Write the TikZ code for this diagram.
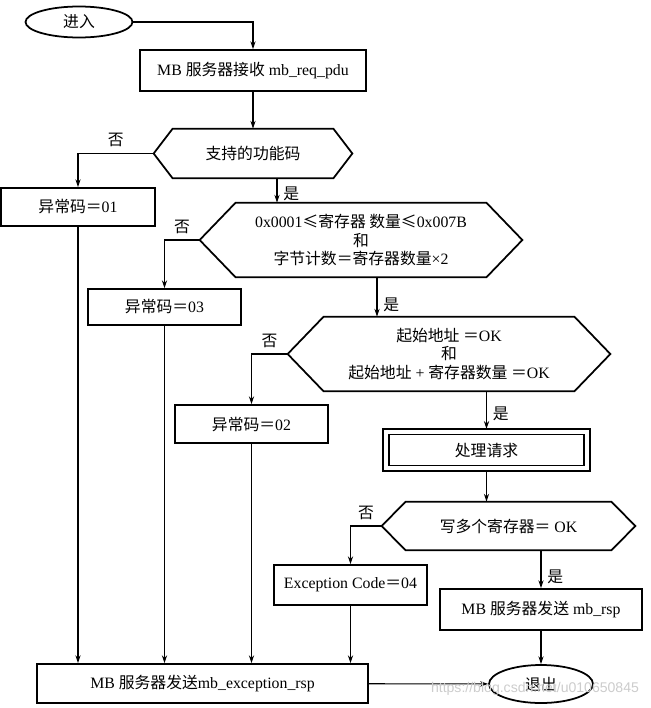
\documentclass[tikz,border=0pt]{standalone}
\usepackage{fontspec}
\setmainfont{Liberation Serif}
\newfontfamily\cjk{Noto Sans CJK SC}
\newfontfamily\markfont{Liberation Sans}
\usetikzlibrary{arrows.meta, shapes.geometric}

\begin{document}
\begin{tikzpicture}
[ x=0.2mm, y=-0.2mm, font=\fontsize{9}{10.5}\selectfont
, >={Stealth[length=4.5pt, width=3pt]}
, box/.style={rectangle, draw, line width=1pt, inner sep=0pt, align=center}
, dbox/.style={box, line width=0.8pt, double, double distance=2.4pt, outer sep=1.6pt}
, terminal/.style={ellipse, draw, line width=1pt, inner sep=0pt}
, decision/.style={rectangle, inner sep=0pt, align=center}
, outline/.style={line width=1pt}
, arrow/.style={->, line width=0.6pt}
]
\useasboundingbox (0,0) rectangle (650,708);

% Main line
\node (enter) [terminal, minimum width=21.4mm, minimum height=6.2mm] at (79,22) {\cjk 进入};
\node (recv) [box, minimum width=45.2mm, minimum height=8.2mm] at (253,70.5) {MB {\cjk 服务器接收} mb\_req\_pdu};
\node (func) [decision, minimum width=32mm, minimum height=9.8mm] at (253,153.5) {\cjk 支持的功能码};
\node (qty) [decision, minimum width=50mm, minimum height=14.8mm] at (361,240)
  {0x0001{\cjk ≤寄存器 数量≤}0x007B\\{\cjk 和}\\{\cjk 字节计数＝寄存器数量}×2};
\node (addr) [decision, minimum width=50mm, minimum height=14.8mm] at (449,354)
  {{\cjk 起始地址 ＝}OK\\{\cjk 和}\\{\cjk 起始地址} + {\cjk 寄存器数量 ＝}OK};
\node (proc) [dbox, minimum width=40.2mm, minimum height=7.3mm] at (486.5,450) {\cjk 处理请求};
\node (write) [decision, minimum width=41mm, minimum height=9.6mm] at (508.5,526) {{\cjk 写多个寄存器＝} OK};
\node (rsp) [box, minimum width=40.4mm, minimum height=8.2mm] at (541,609.5) {MB {\cjk 服务器发送} mb\_rsp};
\node (leave) [terminal, minimum width=20.8mm, minimum height=7.6mm] at (541,684) {\cjk 退出};

% Exception branch
\node (err1) [box, minimum width=30.8mm, minimum height=7.6mm] at (78,207) {{\cjk 异常码＝}01};
\node (err3) [box, minimum width=30.6mm, minimum height=7.2mm] at (164.5,307) {{\cjk 异常码＝}03};
\node (err2) [box, minimum width=30.6mm, minimum height=7.6mm] at (251.5,424) {{\cjk 异常码＝}02};
\node (exc4) [box, minimum width=30.6mm, minimum height=8mm] at (350.5,585) {Exception Code{\cjk ＝}04};
\node (exrsp) [box, minimum width=66.2mm, minimum height=7.8mm] at (202.5,683.5) {MB {\cjk 服务器发送}mb\_exception\_rsp};

% Hexagons round the decisions
\foreach \d/\t in {func/3.8mm, qty/7.2mm, addr/7.2mm, write/4.8mm} {
  \coordinate (\d-w) at ([xshift=-\t]\d.west);
  \coordinate (\d-e) at ([xshift=\t]\d.east);
  \draw [outline] (\d-w) -- (\d.north west) -- (\d.north east) -- (\d-e)
    -- (\d.south east) -- (\d.south west) -- cycle;
}
\coordinate (func-s) at ([xshift=4.8mm]func.south);
\coordinate (qty-s) at ([xshift=3.2mm]qty.south);

\draw [arrow] (enter) -| (recv);
\draw [arrow] (recv) -- (func);
\draw [arrow] (func-s) -- node[right, pos=0.65] {\cjk 是} (func-s |- qty.north);
\draw [arrow] (qty-s) -- node[right, pos=0.7] {\cjk 是} (qty-s |- addr.north);
\draw [arrow] (addr.south -| proc.north) -- node[right, pos=0.6] {\cjk 是} (proc.north);
\draw [arrow] (proc) -- (proc |- write.north);
\draw [arrow] (write.south -| rsp.north) -- node[right, pos=0.7] {\cjk 是} (rsp.north);
\draw [arrow] (rsp) -- (leave);

\draw [arrow] (func-w) -| node[above, pos=0.25] {\cjk 否} (err1);
\draw [arrow] (qty-w) -| node[above, pos=0.25] {\cjk 否} (err3);
\draw [arrow] (addr-w) -| node[above, pos=0.25] {\cjk 否} (err2);
\draw [arrow] (write-w) -| node[above, pos=0.25] {\cjk 否} (exc4);
\foreach \e in {err1, err3, err2, exc4}
  \draw [arrow] (\e) -- (\e |- exrsp.north);
\draw [arrow] (exrsp) -- (leave);

\node (mark) [font=\fontsize{8}{9}\selectfont\markfont, text=gray!40] at (535,689) {https://blog.csdn.net/u010650845};
\end{tikzpicture}
\end{document}
